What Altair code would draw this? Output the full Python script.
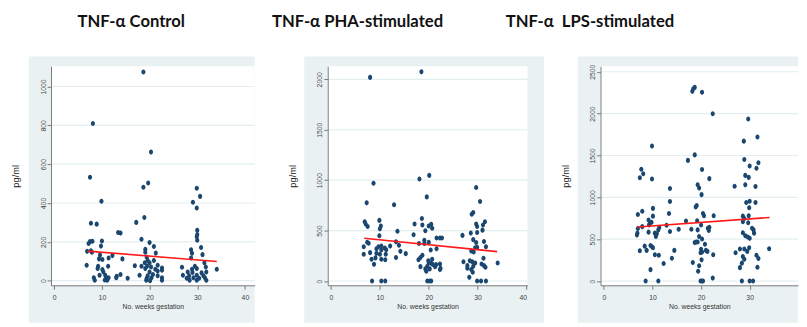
import altair as alt
import pandas as pd

# ---------------- data ----------------
ctrl_x = [18.7, 8.1, 20.3, 7.5, 19.7, 18.7, 29.9, 30.6, 9.9, 29.1, 29.9, 18.9, 17.2, 7.7, 8.9,
          13.4, 13.9, 30.0, 30.0, 29.9, 30.0, 18.3, 20.0, 20.9, 10.0, 8.0, 7.2, 7.5, 9.8, 30.8,
          19.1, 19.1, 21.3, 28.7, 28.9, 6.9, 7.7, 7.9, 31.1, 12.2, 9.6, 11.4, 9.4, 10.1, 14.3,
          19.4, 19.6, 20.9, 28.7, 19.0, 20.0, 21.7, 6.8, 9.2, 11.3, 16.9, 18.3, 19.5, 20.3, 22.6,
          26.8, 29.5, 31.5, 31.8, 34.1, 9.1, 10.1, 19.1, 21.2, 22.6, 28.9, 29.9, 21.7, 10.3, 20.0,
          28.0, 29.0, 30.9, 31.9, 9.5, 10.7, 13.1, 13.9, 17.9, 19.6, 20.7, 21.7, 27.0, 28.3, 29.9,
          31.3, 8.3, 10.9, 11.4, 13.0, 15.4, 19.4, 20.4, 22.6, 27.8, 29.2, 30.4, 31.6, 8.5, 10.6,
          11.1, 19.3, 20.1, 22.6, 28.4, 29.9, 31.9]
ctrl_y = [1075, 809, 662, 533, 503, 481, 476, 434, 409, 404, 374, 325, 300, 296, 291,
          248, 245, 260, 238, 226, 208, 213, 196, 176, 204, 203, 191, 201, 178, 171,
          162, 146, 142, 159, 141, 151, 154, 146, 134, 129, 132, 117, 112, 109, 112,
          121, 104, 104, 117, 92, 92, 79, 79, 74, 74, 77, 74, 75, 70, 65,
          69, 74, 92, 70, 59, 62, 57, 62, 59, 54, 59, 62, 50, 45, 45,
          45, 42, 40, 45, 28, 28, 23, 32, 28, 25, 32, 25, 28, 25, 28,
          25, 15, 15, 15, 15, 12, 12, 15, 15, 12, 15, 12, 15, 2, 3,
          2, 2, 0, 2, 2, 2, 2]

pha_x = [8.0, 18.5, 8.7, 18.1, 20.1, 19.6, 29.7, 7.3, 12.9, 30.5, 29.1, 28.8, 18.6, 9.9, 31.5,
         6.9, 7.1, 7.5, 10.2, 10.0, 17.1, 18.7, 20.5, 20.0, 29.7, 29.9, 31.1, 13.6, 19.3, 20.7,
         31.0, 28.6, 29.9, 16.9, 26.9, 9.9, 29.1, 21.6, 22.3, 22.7, 19.1, 20.0, 31.3, 7.4, 7.7,
         13.3, 13.9, 12.1, 18.0, 19.1, 29.7, 31.7, 10.3, 9.7, 6.7, 9.3, 11.0, 11.3, 10.3, 29.5,
         29.9, 28.7, 29.2, 21.6, 20.4, 14.2, 15.3, 9.3, 8.0, 10.0, 6.7, 13.3, 11.2, 18.7, 18.3,
         9.1, 8.3, 10.3, 17.9, 11.1, 20.7, 19.9, 31.2, 28.4, 28.9, 27.1, 29.5, 8.8, 21.5, 22.3,
         20.0, 20.5, 20.8, 30.8, 31.3, 34.1, 27.9, 29.1, 19.7, 18.3, 21.3, 31.6, 27.9, 22.4, 19.3,
         20.2, 28.7, 22.3, 19.5, 29.0, 28.3, 8.4, 10.3, 11.1, 19.7, 20.2, 20.5, 29.9, 30.7, 31.7]
pha_y = [2019, 2074, 969, 1011, 1047, 834, 927, 775, 756, 788, 678, 662, 620, 601, 588,
         588, 565, 540, 546, 517, 565, 556, 562, 546, 565, 540, 556, 494, 498, 523,
         504, 475, 481, 459, 452, 449, 410, 426, 426, 426, 404, 384, 391, 384, 375,
         388, 355, 346, 372, 372, 381, 339, 346, 339, 339, 320, 326, 310, 307, 330,
         333, 297, 288, 320, 307, 294, 271, 275, 281, 265, 265, 233, 265, 255, 233,
         229, 216, 216, 210, 210, 216, 200, 226, 200, 191, 191, 178, 165, 162, 168,
         178, 175, 165, 168, 152, 178, 152, 145, 145, 142, 142, 136, 126, 126, 120,
         120, 113, 113, 97, 87, 36, 0, 0, 0, 0, 0, 0, 0, 0, 0]

lps_x = [18.4, 18.7, 18.2, 20.2, 22.4, 29.7, 31.6, 28.8, 9.9, 18.7, 17.3, 28.9, 31.8, 30.0, 31.4,
         7.7, 20.2, 8.1, 29.1, 7.4, 29.8, 9.9, 21.7, 29.1, 31.2, 26.9, 19.3, 13.6, 19.6, 20.1,
         13.6, 30.0, 29.3, 31.2, 19.1, 18.9, 29.9, 10.1, 7.9, 7.0, 13.4, 20.4, 29.8, 20.6, 22.6,
         10.1, 28.6, 28.9, 9.2, 16.9, 19.2, 28.6, 9.8, 9.4, 29.7, 20.0, 12.9, 9.3, 7.9, 7.0,
         11.4, 21.4, 21.7, 30.5, 30.8, 15.4, 18.0, 19.3, 11.2, 21.6, 13.6, 9.2, 28.6, 30.9, 6.9,
         10.5, 10.9, 6.8, 10.7, 19.6, 29.1, 29.6, 30.0, 20.2, 19.0, 18.7, 19.3, 20.8, 8.4, 9.9,
         9.6, 10.1, 29.9, 34.0, 14.5, 7.4, 8.8, 28.9, 29.5, 28.0, 20.0, 21.0, 20.2, 21.3, 19.9,
         27.1, 10.5, 11.3, 22.5, 31.4, 28.6, 31.8, 20.1, 14.0, 28.9, 12.3, 18.3, 28.4, 19.6, 31.6,
         28.0, 9.6, 19.4, 22.4, 8.6, 11.2, 19.9, 20.2, 20.4, 28.4, 30.0, 30.7]
lps_y = [2297, 2313, 2266, 2255, 1998, 1935, 1721, 1671, 1612, 1507, 1441, 1452, 1414, 1375, 1347,
         1336, 1332, 1281, 1262, 1234, 1238, 1219, 1223, 1149, 1129, 1133, 1149, 1106, 1110, 1032,
         950, 954, 938, 938, 903, 884, 876, 868, 833, 794, 806, 806, 779, 779, 779,
         775, 775, 748, 728, 717, 720, 709, 701, 681, 697, 670, 666, 670, 650, 627,
         639, 631, 643, 631, 611, 619, 619, 611, 611, 604, 592, 584, 576, 572, 572,
         572, 565, 549, 533, 533, 541, 526, 510, 502, 467, 459, 467, 440, 417, 409,
         424, 397, 397, 386, 366, 362, 366, 382, 354, 382, 378, 366, 347, 354, 339,
         339, 315, 308, 315, 308, 292, 269, 253, 273, 261, 210, 222, 214, 183, 164,
         160, 136, 117, 35, 0, 0, 0, 0, 0, 0, 0, 0]

# fitted regression lines (end points)
ctrl_fit_x = [7.0, 34.1]
ctrl_fit_y = [152, 99]
pha_fit_x = [6.8, 34.0]
pha_fit_y = [423, 291]
lps_fit_x = [6.9, 34.1]
lps_fit_y = [646, 759]

ctrl_ticks = [0, 200, 400, 600, 800, 1000]
pha_ticks = [0, 500, 1000, 1500, 2000]
lps_ticks = [0, 500, 1000, 1500, 2000, 2500]
x_ticks = [0, 10, 20, 30, 40]

titles = ["TNF-α Control", "TNF-α PHA-stimulated", "TNF-α\u00a0 LPS-stimulated"]

# ---------------- styling ----------------
BG = "#e9f1f3"
GRID = "#e4eef0"
DOT = "#1a476f"
FIT = "#ff1a1a"
SMALL_FONT = "Liberation Sans, Arial, sans-serif"
H = 224
AX = dict(zindex=1, grid=False, domainColor="#7a7a7a", tickColor="#7a7a7a",
          tickSize=4, labelFont=SMALL_FONT, labelFontSize=7, labelColor="#444444",
          format="d")


def panel(xs, ys, fx, fy, ticks, ydom, xdom, w, title, title_dx, bg_left, bg_right):
    pts = pd.DataFrame({"x": xs, "y": ys})
    fit = pd.DataFrame({"x": fx, "y": fy})
    grid = pd.DataFrame({"y": ticks})
    one = pd.DataFrame({"a": [0]})
    xs_ = alt.Scale(domain=xdom, nice=False, zero=False)
    ys_ = alt.Scale(domain=ydom, nice=False, zero=False)
    xax = alt.Axis(values=x_ticks, title="No. weeks gestation", labelPadding=5,
                   titlePadding=2, titleFont=SMALL_FONT, titleFontSize=7,
                   titleFontWeight="normal", titleColor="#333333", **AX)
    yax = alt.Axis(values=ticks, title="pg/ml", labelAngle=270, labelAlign="center",
                   labelBaseline="bottom", labelPadding=1, titlePadding=19,
                   titleFont=SMALL_FONT, titleFontSize=9.5,
                   titleFontWeight="normal", titleColor="#222222", **AX)

    bg = alt.Chart(one).mark_rect(color=BG).encode(
        x=alt.value(bg_left), x2=alt.value(w + bg_right),
        y=alt.value(-10), y2=alt.value(H + 38.3))
    white = alt.Chart(one).mark_rect(color="white").encode(
        x=alt.value(0), x2=alt.value(w), y=alt.value(0), y2=alt.value(H))
    rules = alt.Chart(grid).mark_rule(color=GRID, strokeWidth=1.2).encode(
        y=alt.Y("y:Q", scale=ys_, axis=yax), x=alt.value(0), x2=alt.value(w))
    dots = alt.Chart(pts).mark_point(filled=True, color=DOT, opacity=1, size=27,
                                     shape="M-0.8,0a0.8,1 0 1,0 1.6,0a0.8,1 0 1,0 -1.6,0").encode(
        x=alt.X("x:Q", scale=xs_, axis=xax),
        y=alt.Y("y:Q", scale=ys_, axis=yax))
    line = alt.Chart(fit).mark_line(color=FIT, strokeWidth=1.6).encode(
        x=alt.X("x:Q", scale=xs_, axis=xax), y=alt.Y("y:Q", scale=ys_, axis=yax))

    return alt.layer(bg, white, rules, dots, line).properties(
        width=w, height=H,
        title=alt.TitleParams(title, anchor="start", frame="group", dx=title_dx,
                              offset=13, baseline="alphabetic"))


SP = 74
p1 = panel(ctrl_x, ctrl_y, ctrl_fit_x, ctrl_fit_y, ctrl_ticks, [-24, 1104], [-0.68, 42.05],
           208.3, titles[0], 27, -22.7, 0)
p2 = panel(pha_x, pha_y, pha_fit_x, pha_fit_y, pha_ticks, [-43, 2129], [-0.67, 40.2],
           204.3, titles[1], -57, -24, 17)
p3 = panel(lps_x, lps_y, lps_fit_x, lps_fit_y, lps_ticks, [-51, 2565], [-0.69, 39.95],
           202, titles[2], -97, -23.3, 0)

chart = alt.hconcat(p1, p2, p3, spacing=SP, bounds="flush").properties(
    padding={"left": 2, "top": 2, "right": 0, "bottom": 0}
).configure_view(stroke=None, fill=None).configure_title(
    font="Lato", fontSize=17, fontWeight="bold", color="#111111",
)

chart.save("out.html", embed_options={"renderer": "svg", "actions": False})
